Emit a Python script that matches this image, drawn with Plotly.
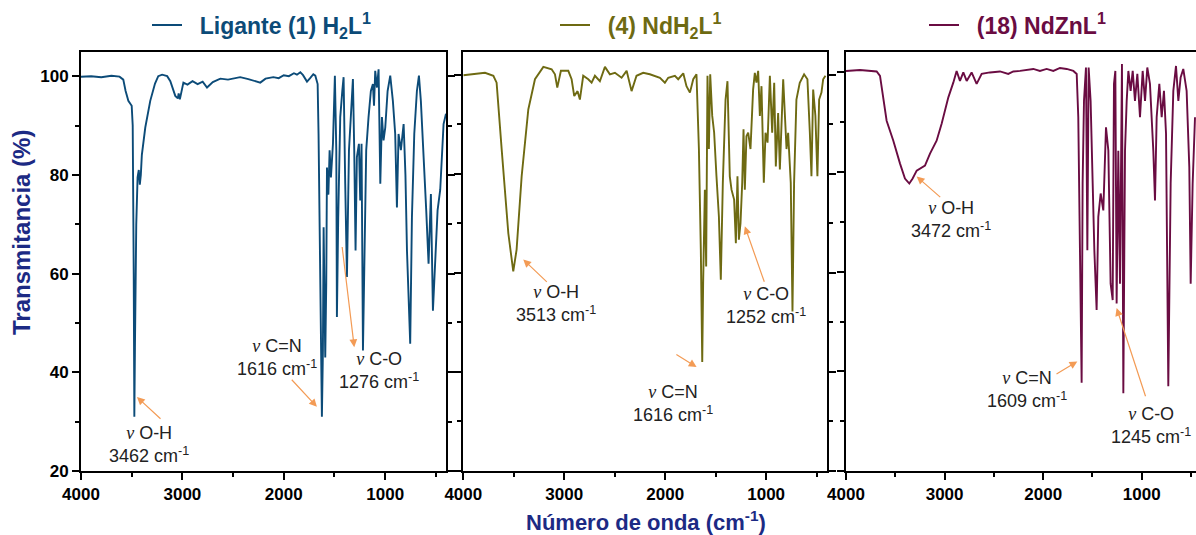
import plotly.graph_objects as go

# ---------------- data ----------------
# Panel 1: Ligante (1) H2L1
wn_1 = [4000, 3900, 3800, 3700, 3620, 3583, 3560, 3533, 3500, 3490, 3480, 3474, 3468, 3455, 3442,
        3430, 3420, 3410, 3400, 3366, 3317, 3270, 3238, 3200, 3150, 3119, 3070, 3045, 3037, 3025,
        2990, 2950, 2900, 2850, 2800, 2757, 2700, 2626, 2550, 2480, 2430, 2350, 2280, 2232, 2180,
        2103, 2050, 2000, 1950, 1900, 1870, 1837, 1810, 1790, 1771, 1740, 1709, 1689,
        1666, 1657, 1640, 1624, 1614, 1607, 1591, 1581, 1574, 1560, 1548, 1535, 1515, 1496, 1482, 1476,
        1463, 1443, 1423, 1410, 1394, 1377, 1357, 1338, 1318, 1305, 1292, 1279, 1259, 1246, 1233,
        1219, 1206, 1187, 1164, 1141, 1121, 1110, 1098, 1081, 1065, 1048, 1032, 1016, 999, 988, 976, 950,
        924, 901, 884, 868, 845, 818, 800, 785, 769, 753, 736, 713, 687, 667, 648, 621, 595, 572, 549,
        529, 510, 483, 457, 424, 400]
t_1 = [99.9, 100.0, 99.8, 100.1, 99.9, 99.3, 97, 95, 94, 90, 60, 31, 45, 70, 79.5,
       81, 78, 80, 84, 89.6, 95, 98.5, 100, 100.3, 100, 99, 96, 95.5, 96.5, 95.3,
       98.7, 98.3, 99, 98.4, 98.9, 97.7, 98.8, 99.5, 99.3, 99.6, 99.8, 99.4, 99, 98.7, 99.5,
       99.8, 99.6, 100.2, 100, 100.6, 100.3, 100.8, 100.2, 99.4, 98.9, 99.6, 100.4, 100.1,
       98.4, 88.3, 58, 31, 44.4, 69.4, 43, 58, 81.5, 76, 85, 79.5, 86.3, 100.1, 85, 51.2,
       71.4, 91.7, 97, 99.8, 78.2, 59.3, 85, 91.7, 99.4, 85, 64.7, 83.6, 86.3, 74.8, 86.3,
       44.4, 64.7, 85, 91.7, 97, 98.4, 94, 101.1, 97.7, 101.4, 78.2, 91.7, 87, 89.6, 94, 97, 100.1,
       95, 88.3, 73.4, 88.3, 85, 90.3, 80, 64.7, 54.5, 45.8, 71.4, 88.3, 97, 100.1, 95, 85, 72.8, 62, 76.1,
       52.5, 62, 72.8, 77, 90.3, 92.4]

# Panel 2: (4) NdH2L1
wn_2 = [4000, 3785, 3702, 3670, 3620, 3554, 3505, 3472, 3422, 3356, 3290, 3207, 3125, 3092, 3069,
        3033, 2960, 2927, 2901, 2868, 2845, 2812, 2762, 2729, 2696, 2647, 2597, 2548, 2498, 2432,
        2382, 2333, 2284, 2218, 2152, 2102, 2052, 2003, 1970, 1904, 1871, 1821, 1789, 1755, 1722,
        1690, 1666, 1647, 1633, 1624, 1607, 1594, 1581, 1567, 1554, 1534, 1515, 1492, 1468, 1449,
        1429, 1402, 1383, 1360, 1343, 1317, 1300, 1284, 1270, 1254, 1237, 1224, 1211, 1195, 1178,
        1155, 1129, 1112, 1096, 1079, 1062, 1046, 1023, 1006, 986, 963, 940, 920, 904, 881, 864,
        831, 798, 782, 756, 739, 723, 700, 667, 624, 591, 567, 551, 534, 512, 492, 475, 452, 435, 412]
t_2 = [99.9, 100.4, 99.8, 98.4, 85, 68, 60.3, 64.7, 79.5, 93, 99.1, 101.6, 101.1, 100.1, 97.4,
       100.8, 100.8, 99.1, 95.7, 96.7, 95, 99.8, 99.1, 98.4, 99.8, 98.7, 101.6, 100.1, 100.4, 99.4,
       100.8, 96.7, 99.8, 100.4, 100.1, 99.8, 99.4, 98.4, 99.4, 99.8, 99.1, 100.3, 97.7, 96.4, 99.1,
       100.1, 85, 64.7, 42, 58, 76.8, 61.3, 99.8, 85, 100.1, 91.7, 88.3, 79.5, 71.4, 58.6,
       78.2, 95, 98.7, 79.5, 76.8, 74.8, 66, 79.5, 66.7, 70, 78.2, 89, 76.8, 87.6, 88.3,
       85, 97, 100.4, 98.4, 100.8, 91.7, 97.7, 78.2, 88.3, 86.3, 99.8, 88.3, 98.4, 81.5, 92.3, 80.9,
       99.1, 85, 88.3, 78.2, 52.2, 78.2, 95, 98.4, 100.1, 99.1, 88.3, 79.5, 97, 91.7, 79.5, 95, 96.4, 99.1, 99.8]

# Panel 3: (18) NdZnL1
wn_3 = [4000, 3858, 3689, 3655, 3588, 3520, 3452, 3402, 3358, 3324, 3283, 3199, 3148, 3081, 3030,
        2962, 2911, 2878, 2844, 2810, 2776, 2726, 2675, 2624, 2540, 2438, 2354, 2303, 2235, 2168,
        2100, 2033, 1965, 1897, 1830, 1762, 1694, 1660, 1644, 1627, 1610, 1600, 1586, 1566, 1552,
        1539, 1519, 1498, 1481, 1458, 1441, 1417, 1390, 1363, 1339, 1316, 1295, 1282, 1268, 1255,
        1238, 1221, 1201, 1187, 1170, 1153, 1136, 1113, 1092, 1069, 1045, 1018, 991, 967, 944,
        917, 883, 866, 849, 822, 798, 775, 754, 731, 707, 680, 653, 629, 606, 579, 545, 518, 504, 484, 460]
t_3 = [100.3, 100.5, 100.2, 99.3, 90.3, 86.3, 81.7, 78.7, 77.7, 78.7, 80.3, 81.3, 83.7, 86.3, 89.7,
       95, 98, 100.3, 98.3, 100, 98.3, 100, 97.7, 99.7, 100, 100.2, 99.7, 100.2, 100.3, 100.5,
       100.7, 100.3, 100.7, 100.3, 100.9, 100.7, 100.3, 99.7, 91, 64.3, 37.7, 77.7, 94.3, 101, 64.3,
       101, 94.3, 77.7, 64.3, 52.3, 71, 75.7, 72.3, 89, 84.3, 57.6, 54.3, 97.7, 100.3, 53.6,
       84.3, 57.6, 101.7, 35.6, 84.3, 94.3, 100.3, 96.3, 100.3, 94.3, 99.7, 91, 100.3, 94.3, 101,
       97.7, 84.3, 74.3, 91, 97.7, 91, 96.3, 87.7, 37, 77.7, 96.3, 101.3, 94.3, 99, 100.7, 96.3, 81, 57.6, 77.7, 91]

series_names = ["&nbsp;&nbsp;Ligante (1) H<sub>2</sub>L<sup>1</sup>",
                "&nbsp;&nbsp;(4) NdH<sub>2</sub>L<sup>1</sup>",
                "&nbsp;&nbsp;(18) NdZnL<sup>1</sup>"]
colors = ["#0C4B78", "#6E6A12", "#6A0C42"]

x_ticks = [4000, 3000, 2000, 1000]
x_minor = [3500, 2500, 1500, 500]
y_ticks = [20, 40, 60, 80, 100]
y_minor = [30, 50, 70, 90]

# peak annotations: (panel, label, band, text_x, text_y, head_x, head_y, tail_x, tail_y)
peak_labels = [
    (1, "O-H", "3462", 3325, 25.4, 3448, 35.0, 3201, 30.3),
    (1, "C=N", "1616", 2062, 43.0, 1673, 33.0, 1935, 38.8),
    (1, "C-O", "1276", 1058, 40.4, 1305, 45.1, 1426, 65.7),
    (2, "O-H", "3513", 3082, 53.8, 3406, 62.7, 3158, 57.9),
    (2, "C=N", "1616", 1924, 33.6, 1689, 41.0, 1904, 43.7),
    (2, "C-O", "1252", 1005, 53.4, 1211, 69.4, 1013, 57.9),
    (3, "O-H", "3472", 2935, 70.5, 3283, 79.1, 3029, 74.7),
    (3, "C=N", "1609", 2164, 36.3, 1654, 42.0, 1880, 39.3),
    (3, "C-O", "1245", 907, 29.1, 1255, 52.7, 957, 34.7),
]

# ---------------- figure ----------------
W, H = 1196, 535
ml, mr, mt, mb = 81, 0, 52, 64
pw = W - ml - mr
ph = H - mt - mb

def px_x(px):
    return (px - ml) / pw

def px_y(py):
    return (H - mb - py) / ph

domains = [[px_x(81), px_x(446)], [px_x(463.3), px_x(826.7)], [px_x(846), 1.0]]
x_ranges = [[4000, 400], [4000, 400], [4000, 450]]
y_ranges = [[20, 104.9], [20, 104.6], [20, 104.1]]

FONT = "Liberation Sans, Arial, sans-serif"
arrow_color = "#F39B55"

fig = go.Figure()
data = [(wn_1, t_1), (wn_2, t_2), (wn_3, t_3)]
legend_ids = ["legend", "legend2", "legend3"]
for i, (xs, ys) in enumerate(data):
    sfx = "" if i == 0 else str(i + 1)
    fig.add_trace(go.Scatter(
        x=xs, y=ys, mode="lines", name=series_names[i],
        line=dict(color=colors[i], width=1.9),
        xaxis="x" + sfx, yaxis="y" + sfx, legend=legend_ids[i], showlegend=True))

layout = dict(
    width=W, height=H, margin=dict(l=ml, r=mr, t=mt, b=mb),
    paper_bgcolor="white", plot_bgcolor="white",
    font=dict(family=FONT, color="black"),
)

for i in range(3):
    sfx = "" if i == 0 else str(i + 1)
    layout["xaxis" + sfx] = dict(
        domain=domains[i], range=x_ranges[i], anchor="y" + sfx,
        showline=True, linecolor="black", linewidth=2, mirror=True,
        ticks="outside", ticklen=7, tickwidth=2, tickcolor="black",
        tickvals=x_ticks, ticktext=[str(v) for v in x_ticks],
        minor=dict(tickvals=x_minor, ticks="outside", ticklen=4, tickwidth=1.5, tickcolor="black"),
        tickfont=dict(family=FONT, size=17, color="black", weight="bold"),
        showgrid=False, zeroline=False,
    )
    layout["yaxis" + sfx] = dict(
        domain=[0, 1], range=y_ranges[i], anchor="x" + sfx,
        showline=True, linecolor="black", linewidth=2,
        mirror=("ticks" if i < 2 else False),
        ticks="outside", ticklen=7, tickwidth=2, tickcolor="black",
        tickvals=y_ticks, showticklabels=(i == 0),
        minor=dict(tickvals=y_minor, ticks="outside", ticklen=4, tickwidth=1.5, tickcolor="black"),
        tickfont=dict(family=FONT, size=17, color="black", weight="bold"),
        showgrid=False, zeroline=False,
    )

legend_pos = [px_x(147), px_x(555), px_x(924)]
for i, lid in enumerate(legend_ids):
    layout[lid] = dict(
        x=legend_pos[i], y=px_y(25), xanchor="left", yanchor="middle",
        orientation="h", bgcolor="rgba(0,0,0,0)", borderwidth=0,
        font=dict(family=FONT, size=23, color=colors[i], weight="bold"),
        itemwidth=30,
    )

fig.update_layout(**layout)

annotations = []
for (panel, bond, band, tx, ty, hx, hy, ax_, ay_) in peak_labels:
    sfx = "" if panel == 1 else str(panel)
    annotations.append(dict(
        x=tx, y=ty, xref="x" + sfx, yref="y" + sfx, showarrow=False,
        text="<span style='font-family:Liberation Serif'><i>ν</i></span> " + bond + "<br>" + band + " cm<sup>-1</sup>",
        font=dict(family=FONT, size=18, color="#222222"), align="center",
        xanchor="center", yanchor="middle"))
    annotations.append(dict(
        x=hx, y=hy, ax=ax_, ay=ay_, xref="x" + sfx, yref="y" + sfx,
        axref="x" + sfx, ayref="y" + sfx, text="", showarrow=True,
        arrowhead=2, arrowsize=1.3, arrowwidth=1.2, arrowcolor=arrow_color, standoff=0))

annotations.append(dict(
    x=px_x(646), y=px_y(521), xref="paper", yref="paper", showarrow=False,
    text="Número de onda (cm<sup>-1</sup>)",
    font=dict(family=FONT, size=22, color="#1C2A84", weight="bold"),
    xanchor="center", yanchor="middle"))
annotations.append(dict(
    x=px_x(21), y=px_y(233), xref="paper", yref="paper", showarrow=False,
    text="Transmitancia (%)", textangle=-90,
    font=dict(family=FONT, size=24, color="#1C2A84", weight="bold"),
    xanchor="center", yanchor="middle"))

fig.update_layout(annotations=annotations)
fig.write_html("out.html")
